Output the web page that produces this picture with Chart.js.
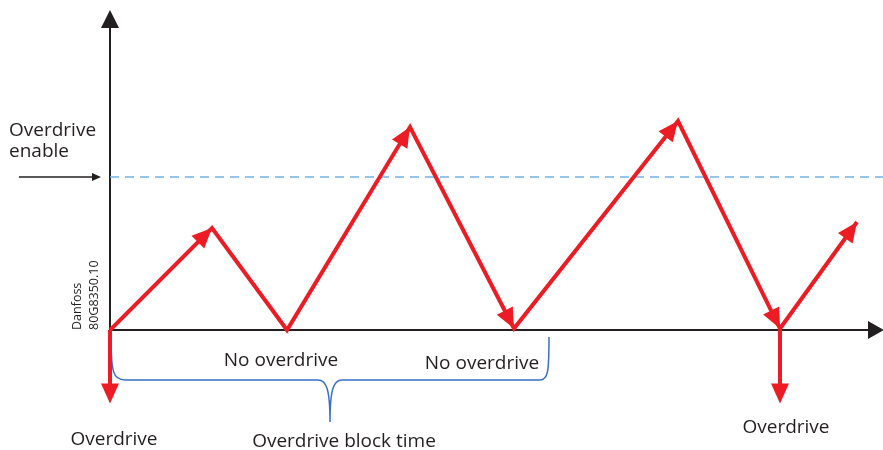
<!DOCTYPE html>
<html>
<head>
<meta charset="utf-8">
<script src="https://cdn.jsdelivr.net/npm/chart.js@4"></script>
<style>
  body { margin: 0; background: #fff; }
  #wrap { width: 883px; height: 450px; }
</style>
</head>
<body>
<div id="wrap"><canvas id="myChart" width="883" height="450"></canvas></div>
<script>
// time (arbitrary units) and temperature level (1 = overdrive enable)
var times = [0, 10.2, 17.7, 30, 40.4, 56.8, 67, 74.7];
var levels = [0, 0.667, 0, 1.327, 0.01, 1.366, 0.01, 0.706];
// which points get an arrow head
var heads = [false, true, false, true, true, true, true, true];
var enableLevel = 1;
// the two "Overdrive" drops
var dropTimes = [0, 67];
var dropDepth = -0.48;

var red = '#ed1c24';
var black = '#231f20';
var blue = '#3a6fc9';
var font = '"Open Sans", "Noto Sans", sans-serif';

function arrowHead(c, x1, y1, x2, y2, len, half, color) {
    var a = Math.atan2(y2 - y1, x2 - x1);
    c.save();
    c.fillStyle = color;
    c.beginPath();
    c.moveTo(x2, y2);
    c.lineTo(x2 - len * Math.cos(a) + half * Math.sin(a), y2 - len * Math.sin(a) - half * Math.cos(a));
    c.lineTo(x2 - len * Math.cos(a) - half * Math.sin(a), y2 - len * Math.sin(a) + half * Math.cos(a));
    c.closePath();
    c.fill();
    c.restore();
}

const diagram = {
    id: 'diagram',
    beforeDatasetsDraw(chart) {
        const c = chart.ctx;
        const xs = chart.scales.x, ys = chart.scales.y;
        const x0 = xs.getPixelForValue(0), y0 = ys.getPixelForValue(0);
        c.save();
        c.strokeStyle = black;
        c.lineWidth = 2;
        c.beginPath();
        c.moveTo(x0, y0); c.lineTo(x0, 24);
        c.moveTo(x0, y0); c.lineTo(874, y0);
        c.stroke();
        arrowHead(c, x0, 100, x0, 10, 18, 9, black);
        arrowHead(c, 800, y0, 884, y0, 16, 9, black);

        // enable arrow
        const ye = ys.getPixelForValue(enableLevel);
        c.lineWidth = 1.5;
        c.beginPath(); c.moveTo(19, ye); c.lineTo(94, ye); c.stroke();
        arrowHead(c, 19, ye, 101, ye, 9, 4, black);

        // brace
        c.strokeStyle = blue;
        c.lineWidth = 1.5;
        c.beginPath();
        c.moveTo(111, 335);
        c.bezierCurveTo(111, 372, 113, 380, 125, 380);
        c.lineTo(318, 380);
        c.bezierCurveTo(326, 380, 330, 388, 330, 422);
        c.bezierCurveTo(330, 388, 334, 380, 342, 380);
        c.lineTo(540, 380);
        c.bezierCurveTo(548, 380, 549, 372, 549, 337);
        c.stroke();

        // texts
        c.fillStyle = black;
        c.font = '19px ' + font;
        c.textBaseline = 'alphabetic';
        c.textAlign = 'left';
        c.fillText('Overdrive', 9, 136);
        c.fillText('enable', 9, 157);
        c.textAlign = 'center';
        c.fillText('No overdrive', 281, 366);
        c.fillText('No overdrive', 482, 369);
        c.fillText('Overdrive block time', 344, 447);
        c.fillText('Overdrive', 114, 445);
        c.fillText('Overdrive', 786, 433);

        c.font = '12.5px ' + font;
        c.textAlign = 'left';
        c.save();
        c.translate(81, 330); c.rotate(-Math.PI / 2);
        c.fillText('Danfoss', 0, 0);
        c.restore();
        c.save();
        c.translate(98, 330); c.rotate(-Math.PI / 2);
        c.fillText('80G8350.10', 0, 0);
        c.restore();
        c.restore();
    },
    afterDatasetsDraw(chart) {
        const c = chart.ctx;
        const xs = chart.scales.x, ys = chart.scales.y;
        for (let i = 1; i < times.length; i++) {
            if (!heads[i]) continue;
            arrowHead(c, xs.getPixelForValue(times[i - 1]), ys.getPixelForValue(levels[i - 1]),
                xs.getPixelForValue(times[i]), ys.getPixelForValue(levels[i]), 20, 9, red);
        }
        dropTimes.forEach(function (t) {
            arrowHead(c, xs.getPixelForValue(t), ys.getPixelForValue(0),
                xs.getPixelForValue(t), ys.getPixelForValue(dropDepth), 20, 9, red);
        });
    }
};

const datasets = [{
    data: times.map((t, i) => ({ x: t, y: levels[i] })),
    borderColor: red,
    borderWidth: 4,
    borderJoinStyle: 'miter',
    pointRadius: 0,
    showLine: true,
    order: 1
}, {
    data: [{ x: 0, y: enableLevel }, { x: 77.3, y: enableLevel }],
    borderColor: '#72b3e6',
    borderWidth: 1.5,
    borderDash: [9, 6],
    pointRadius: 0,
    showLine: true,
    order: 3
}];
dropTimes.forEach(function (t) {
    datasets.push({
        data: [{ x: t, y: 0 }, { x: t, y: dropDepth + 0.05 }],
        borderColor: red,
        borderWidth: 4,
        pointRadius: 0,
        showLine: true,
        order: 2
    });
});

new Chart(document.getElementById('myChart'), {
    type: 'scatter',
    data: { datasets: datasets },
    options: {
        responsive: false,
        animation: false,
        layout: { padding: 0 },
        plugins: { legend: { display: false }, tooltip: { enabled: false } },
        scales: {
            x: { type: 'linear', display: false, min: -11, max: 77.3 },
            y: { type: 'linear', display: false, min: -0.784, max: 2.157 }
        }
    },
    plugins: [diagram]
});
</script>
</body>
</html>
